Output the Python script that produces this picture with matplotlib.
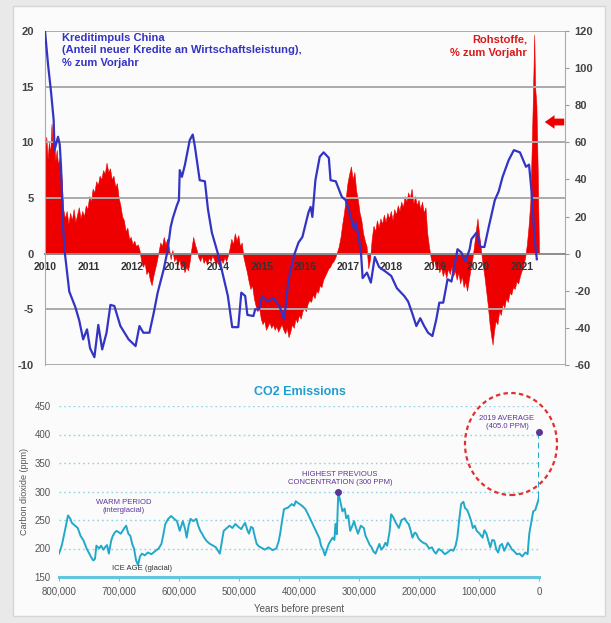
import numpy as np
import matplotlib
matplotlib.use("Agg")
import matplotlib.pyplot as plt
from matplotlib.patches import Ellipse, Rectangle

plt.rcParams['font.family'] = ['Liberation Sans', 'DejaVu Sans']
plt.rcParams['axes.unicode_minus'] = False

# --- Kreditimpuls China (linke Achse) ---
blue_t = [2010.00, 2010.07, 2010.14, 2010.20, 2010.22, 2010.30, 2010.34, 2010.37, 2010.42, 2010.46,
          2010.56, 2010.70, 2010.79, 2010.88, 2010.97, 2011.04, 2011.14, 2011.23, 2011.32, 2011.42,
          2011.51, 2011.60, 2011.74, 2011.93, 2012.09, 2012.18, 2012.27, 2012.41, 2012.51, 2012.60,
          2012.74, 2012.83, 2012.90, 2012.95, 2013.04, 2013.09, 2013.11, 2013.16, 2013.23, 2013.34,
          2013.41, 2013.46, 2013.57, 2013.69, 2013.76, 2013.85, 2013.99, 2014.13, 2014.22, 2014.32,
          2014.46, 2014.53, 2014.62, 2014.67, 2014.81, 2014.85, 2014.94, 2015.01, 2015.13, 2015.27,
          2015.41, 2015.52, 2015.62, 2015.76, 2015.85, 2015.94, 2016.08, 2016.13, 2016.17, 2016.24,
          2016.34, 2016.43, 2016.55, 2016.59, 2016.71, 2016.85, 2016.94, 2017.03, 2017.13, 2017.17,
          2017.22, 2017.29, 2017.33, 2017.43, 2017.52, 2017.61, 2017.71, 2017.89, 2017.99, 2018.12,
          2018.29, 2018.38, 2018.47, 2018.57, 2018.66, 2018.75, 2018.84, 2018.94, 2019.03, 2019.10,
          2019.19, 2019.29, 2019.38, 2019.52, 2019.61, 2019.70, 2019.80, 2019.84, 2019.96, 2020.05,
          2020.14, 2020.24, 2020.38, 2020.47, 2020.56, 2020.70, 2020.82, 2020.96, 2021.10, 2021.17,
          2021.23, 2021.30, 2021.35]
blue_v = [20.0, 17.0, 14.5, 12.0, 9.3, 10.5, 9.8, 7.8, 2.2, 0.0,
          -3.4, -4.8, -6.0, -7.7, -6.8, -8.5, -9.3, -6.4, -8.6, -7.1,
          -4.6, -4.7, -6.5, -7.7, -8.3, -6.5, -7.1, -7.1, -5.3, -3.5,
          -1.4, 0.3, 2.4, 3.2, 4.3, 4.8, 7.5, 6.9, 8.0, 10.2,
          10.7, 9.6, 6.6, 6.5, 4.0, 1.9, 0.0, -2.3, -3.8, -6.6,
          -6.6, -3.5, -3.8, -5.5, -5.6, -5.0, -5.0, -3.8, -4.3, -4.0,
          -4.7, -5.9, -2.3, 0.0, 1.0, 1.5, 3.7, 4.2, 3.3, 6.6,
          8.7, 9.1, 8.6, 6.6, 6.5, 5.1, 4.8, 3.7, 2.2, 2.8,
          1.9, 0.2, -2.2, -1.7, -2.6, -0.3, -1.2, -1.7, -2.0, -3.1,
          -3.8, -4.3, -5.3, -6.5, -5.8, -6.5, -7.1, -7.4, -5.9, -4.4,
          -4.4, -2.3, -2.5, 0.4, 0.1, -0.7, 0.4, 1.3, 1.9, 0.6,
          0.6, 2.4, 4.8, 5.6, 6.9, 8.4, 9.3, 9.1, 7.8, 8.0,
          5.5, 1.3, -0.5]

# --- Rohstoffe, % zum Vorjahr (rechte Achse) ---
red_t = [2010.00, 2010.03, 2010.06, 2010.09, 2010.12, 2010.15, 2010.18, 2010.21, 2010.24, 2010.27,
         2010.30, 2010.34, 2010.38, 2010.42, 2010.46, 2010.50, 2010.54, 2010.58, 2010.62, 2010.66,
         2010.70, 2010.74, 2010.78, 2010.82, 2010.86, 2010.90, 2010.94, 2010.98, 2011.02, 2011.06,
         2011.10, 2011.14, 2011.18, 2011.22, 2011.26, 2011.30, 2011.34, 2011.38, 2011.42, 2011.46,
         2011.50, 2011.54, 2011.58, 2011.62, 2011.66, 2011.70, 2011.74, 2011.78, 2011.82, 2011.86,
         2011.90, 2011.94, 2011.98, 2012.02, 2012.06, 2012.10, 2012.14, 2012.18, 2012.22, 2012.26,
         2012.30, 2012.34, 2012.38, 2012.42, 2012.46, 2012.50, 2012.54, 2012.58, 2012.62, 2012.66,
         2012.70, 2012.74, 2012.78, 2012.82, 2012.86, 2012.90, 2012.94, 2012.98, 2013.02, 2013.06,
         2013.10, 2013.14, 2013.18, 2013.22, 2013.26, 2013.30, 2013.34, 2013.38, 2013.42, 2013.46,
         2013.50, 2013.54, 2013.58, 2013.62, 2013.66, 2013.70, 2013.74, 2013.78, 2013.82, 2013.86,
         2013.90, 2013.94, 2013.98, 2014.02, 2014.06, 2014.10, 2014.14, 2014.18, 2014.22, 2014.26,
         2014.30, 2014.34, 2014.38, 2014.42, 2014.46, 2014.50, 2014.54, 2014.58, 2014.62, 2014.66,
         2014.70, 2014.74, 2014.78, 2014.82, 2014.86, 2014.90, 2014.94, 2014.98, 2015.02, 2015.06,
         2015.10, 2015.14, 2015.18, 2015.22, 2015.26, 2015.30, 2015.34, 2015.38, 2015.42, 2015.46,
         2015.50, 2015.54, 2015.58, 2015.62, 2015.66, 2015.70, 2015.74, 2015.78, 2015.82, 2015.86,
         2015.90, 2015.94, 2015.98, 2016.02, 2016.06, 2016.10, 2016.14, 2016.18, 2016.22, 2016.26,
         2016.30, 2016.34, 2016.38, 2016.42, 2016.46, 2016.50, 2016.54, 2016.58, 2016.62, 2016.66,
         2016.70, 2016.74, 2016.78, 2016.82, 2016.86, 2016.90, 2016.94, 2016.98, 2017.02, 2017.06,
         2017.10, 2017.14, 2017.18, 2017.22, 2017.26, 2017.30, 2017.34, 2017.38, 2017.42, 2017.46,
         2017.50, 2017.54, 2017.58, 2017.62, 2017.66, 2017.70, 2017.74, 2017.78, 2017.82, 2017.86,
         2017.90, 2017.94, 2017.98, 2018.02, 2018.06, 2018.10, 2018.14, 2018.18, 2018.22, 2018.26,
         2018.30, 2018.34, 2018.38, 2018.42, 2018.46, 2018.50, 2018.54, 2018.58, 2018.62, 2018.66,
         2018.70, 2018.74, 2018.78, 2018.82, 2018.86, 2018.90, 2018.94, 2018.98, 2019.02, 2019.06,
         2019.10, 2019.14, 2019.18, 2019.22, 2019.26, 2019.30, 2019.34, 2019.38, 2019.42, 2019.46,
         2019.50, 2019.54, 2019.58, 2019.62, 2019.66, 2019.70, 2019.74, 2019.78, 2019.82, 2019.86,
         2019.90, 2019.94, 2019.98, 2020.02, 2020.06, 2020.10, 2020.14, 2020.18, 2020.22, 2020.26,
         2020.30, 2020.33, 2020.36, 2020.40, 2020.44, 2020.48, 2020.52, 2020.56, 2020.60, 2020.64,
         2020.68, 2020.72, 2020.76, 2020.80, 2020.84, 2020.88, 2020.92, 2020.96, 2021.00, 2021.04,
         2021.08, 2021.12, 2021.16, 2021.20, 2021.23, 2021.26, 2021.29, 2021.31, 2021.34, 2021.37,
         2021.40]
red_v = [55, 63, 51, 60, 54, 70, 57, 62, 50, 56,
         48, 52, 42, 24, 19, 23, 16, 22, 18, 24,
         17, 21, 25, 19, 23, 20, 26, 24, 31, 28,
         35, 33, 39, 37, 42, 40, 45, 43, 49, 44,
         46, 40, 42, 36, 38, 30, 26, 20, 18, 12,
         14, 8, 9, 5, 7, 4, 5, 2, -4, -7,
         -5, -11, -9, -14, -17, -12, -8, -4, 1, 6,
         4, 9, 5, 8, 3, -3, 2, -4, -2, -6,
         -3, -8, -6, -10, -7, -9, -4, 3, 9, 5,
         2, -2, -4, -1, -5, -3, -6, -2, -4, -1,
         -3, -6, -4, -7, -3, -5, -2, -4, -1, 3,
         8, 5, 11, 7, 10, 4, 6, -2, -6, -10,
         -15, -19, -17, -24, -28, -31, -29, -35, -38, -36,
         -41, -39, -37, -40, -38, -41, -39, -42, -40, -38,
         -41, -43, -40, -45, -42, -38, -40, -35, -37, -33,
         -35, -31, -29, -31, -27, -25, -26, -22, -24, -20,
         -21, -17, -18, -14, -12, -10, -8, -7, -5, -4,
         -2, 1, 4, 9, 16, 22, 30, 38, 43, 47,
         40, 44, 34, 29, 22, 18, 11, 7, 4, -8,
         -3, 8, 15, 12, 18, 14, 19, 16, 21, 17,
         22, 19, 23, 18, 24, 21, 26, 23, 28, 25,
         31, 28, 33, 30, 35, 27, 31, 26, 29, 24,
         28, 22, 25, 11, 4, -2, -6, -3, -8, -5,
         -10, -7, -12, -9, -13, -8, -11, -7, -12, -9,
         -14, -10, -16, -12, -18, -15, -20, -14, -8, -3,
         4, 12, 19, 10, 2, -6, -12, -20, -28, -38,
         -45, -49, -42, -36, -38, -31, -33, -27, -29, -24,
         -26, -21, -22, -18, -19, -15, -16, -12, -9, -6,
         -2, 5, 15, 28, 55, 85, 118, 90, 80, 45,
         0]

years = list(range(2010, 2022))

# --- CO2 (ppm), Jahre vor heute ---
co2_kyr = [800, 797, 794.8, 790, 785, 781, 778.6, 773, 768.8, 764,
           759.1, 754, 749.4, 746, 742.9, 740, 737.7, 733, 729.9, 726,
           723.4, 720, 716.9, 713, 710.4, 707, 703.9, 697, 691, 688,
           684.5, 681, 678, 675, 671.5, 668.3, 665, 661.8, 657, 652,
           646, 639, 634, 629.3, 626, 622.8, 618, 613.1, 608, 603.4,
           598.8, 596, 593.7, 590, 587.2, 584, 580.7, 576, 571, 568,
           564.5, 561, 558, 553, 548.2, 543, 538.5, 535, 532, 528,
           525.5, 520, 515.8, 511, 506.1, 501, 496.3, 493, 489.8, 486,
           483.4, 480, 476.9, 473, 470.4, 467, 463.9, 457, 450.9, 444,
           437.9, 434, 431.4, 428, 425, 418, 412, 408, 405.5, 402,
           399, 394, 389.3, 384, 379.5, 375, 369.8, 366, 363.3, 360,
           356.8, 353, 350.4, 347, 343.9, 341, 339.3, 337, 334.5, 331,
           327.6, 324, 321.2, 318, 314.7, 311, 308.2, 305, 301.7, 297,
           292, 289, 285.5, 282, 279, 276, 272.5, 269, 266, 263,
           259.5, 256, 253, 249, 246.5, 243, 240.1, 237, 233.6, 229,
           223.8, 220, 217.3, 214, 210.9, 207, 204.4, 201, 197.9, 193,
           188.2, 183, 178.4, 175, 171.9, 167, 162.2, 157, 152.5, 147,
           142.7, 139, 136.2, 133, 129.8, 126, 123.3, 120, 116.8, 113,
           110.3, 107, 103.8, 99, 94.1, 91, 87.6, 84, 81.1, 78,
           74.6, 71, 68.1, 65, 61.6, 58, 55.1, 52, 48.7, 45,
           42.2, 37, 32.4, 28, 22.7, 19, 16.2, 13, 9.7, 6,
           3.2, 1.5, 0]
co2_ppm = [191, 200, 208, 232, 258, 252, 245, 240, 236, 222,
           214, 200, 191, 184, 179, 182, 205, 200, 205, 198,
           202, 206, 191, 214, 222, 228, 231, 226, 236, 240,
           226, 222, 208, 200, 179, 171, 186, 191, 188, 193,
           190, 196, 200, 208, 225, 243, 252, 257, 252, 248,
           231, 240, 248, 235, 219, 240, 252, 248, 252, 240,
           231, 225, 219, 212, 208, 205, 202, 196, 191, 215,
           231, 236, 240, 236, 243, 238, 234, 240, 245, 232,
           226, 238, 236, 218, 208, 204, 202, 198, 202, 197,
           200, 212, 226, 250, 269, 272, 278, 275, 283, 280,
           278, 274, 269, 258, 248, 238, 226, 218, 205, 198,
           188, 200, 208, 214, 219, 215, 243, 225, 298, 282,
           265, 270, 253, 258, 231, 240, 248, 236, 226, 240,
           236, 222, 214, 206, 202, 195, 191, 200, 208, 198,
           202, 210, 205, 230, 260, 255, 248, 242, 236, 250,
           253, 246, 243, 232, 219, 228, 226, 218, 214, 210,
           208, 200, 202, 195, 191, 199, 196, 190, 193, 198,
           196, 205, 219, 250, 278, 282, 271, 268, 260, 248,
           236, 240, 231, 226, 219, 232, 226, 212, 202, 215,
           214, 198, 193, 205, 208, 196, 202, 210, 205, 198,
           196, 190, 191, 186, 193, 190, 226, 245, 265, 268,
           278, 283, 290]
co2_ticks = [800000, 700000, 600000, 500000, 400000, 300000, 200000, 100000, 0]
co2_ticklabels = ['800,000', '700,000', '600,000', '500,000', '400,000',
                  '300,000', '200,000', '100,000', '0']
co2_now = 405.0
co2_prev_max_kyr = 334.5
co2_prev_max = 300

W, H = 611, 623
BLUE = '#3434c4'
RED = '#ee0000'
CYAN = '#22a9c9'
PURPLE = '#5b3596'
GREY_TXT = '#444444'


def fx(px):
    return px / W


def fy(py):
    return 1 - py / H


fig = plt.figure(figsize=(W / 100, H / 100), dpi=100, facecolor='#e9e9e9')
fig.patches.append(Rectangle((fx(13), fy(616)), fx(605) - fx(13), fy(6) - fy(616),
                             transform=fig.transFigure, facecolor='#fbfbfb',
                             edgecolor='#d6d6d6', lw=1, zorder=-10))

# ---------------- oberes Diagramm ----------------
ax = fig.add_axes([fx(45), fy(365), fx(565) - fx(45), fy(31) - fy(365)])
ax2 = ax.twinx()
ax.set_zorder(2)
ax.patch.set_visible(False)
ax2.set_zorder(1)

ax2.fill_between(red_t, red_v, 0, color=RED, lw=0.4, edgecolor=RED)
ax2.set_ylim(-60, 120)
ax2.set_yticks(range(-60, 121, 20))
ax2.tick_params(axis='y', length=3, color='#999999', labelsize=8, labelcolor=GREY_TXT, pad=4)
for lab in ax2.get_yticklabels():
    lab.set_fontweight('bold')

for v in [20, 15, 10, 5, -5, -10]:
    ax.axhline(v, color='#aaaaaa', lw=1.4, zorder=0)
ax.plot(blue_t, blue_v, color=BLUE, lw=1.6, zorder=3)
ax.set_xlim(2010, 2022)
ax.set_ylim(-10, 20)
ax.set_yticks([20, 15, 10, 5, 0, -5, -10])
ax.set_xticks(years)
ax.spines['bottom'].set_position(('data', 0))
ax.spines['bottom'].set_color('#8c8c8c')
ax.spines['bottom'].set_linewidth(1.4)
ax.spines['bottom'].set_zorder(1)
ax.spines['top'].set_visible(False)
ax2.spines['top'].set_visible(False)
ax2.spines['bottom'].set_visible(False)
ax.spines['left'].set_color('#aaaaaa')
ax2.spines['right'].set_color('#aaaaaa')
ax2.spines['left'].set_visible(False)
ax.spines['right'].set_visible(False)
ax.tick_params(axis='x', length=0, pad=6, labelsize=7.5, labelcolor='#333333')
ax.tick_params(axis='y', length=0, pad=8, labelsize=8, labelcolor=GREY_TXT)
for lab in ax.get_xticklabels() + ax.get_yticklabels():
    lab.set_fontweight('bold')

fig.text(fx(62), fy(33), 'Kreditimpuls China\n(Anteil neuer Kredite an Wirtschaftsleistung),\n% zum Vorjahr',
         color=BLUE, fontsize=8, fontweight='bold', va='top', ha='left', linespacing=1.3)
fig.text(fx(527), fy(35), 'Rohstoffe,\n% zum Vorjahr', color='#d91a1a', fontsize=8,
         fontweight='bold', va='top', ha='right', multialignment='right', linespacing=1.35)
fig.add_artist(matplotlib.patches.FancyArrowPatch(
    (fx(567), fy(122)), (fx(542), fy(122)), transform=fig.transFigure,
    arrowstyle='simple,head_width=0.7,head_length=0.5,tail_width=0.35',
    mutation_scale=14, color=RED, lw=0))

# ---------------- unteres Diagramm ----------------
ax3 = fig.add_axes([fx(59), fy(577), fx(539) - fx(59), fy(406) - fy(577)])
ax3.patch.set_visible(False)
co2_years = [k * 1000 for k in co2_kyr]
for v in [200, 250, 300, 350, 400, 450]:
    ax3.axhline(v, color='#8fd4e6', lw=1.0, ls=(0, (1.2, 2.2)), zorder=0)
ax3.axhline(150, color='#63c6dc', lw=2.2, zorder=1, clip_on=False)
ax3.plot(co2_years, co2_ppm, color=CYAN, lw=1.4, zorder=2)
ax3.plot([0, 0], [co2_ppm[-1], co2_now], color=CYAN, lw=1.4, ls=(0, (3, 2)), zorder=2)
ax3.plot([0], [co2_now], 'o', color=PURPLE, ms=4, zorder=4, clip_on=False)
ax3.plot([co2_prev_max_kyr * 1000], [co2_prev_max], 'o', color=PURPLE, ms=4, zorder=4)
ax3.set_xlim(800000, 0)
ax3.set_ylim(150, 450)
ax3.set_xticks(co2_ticks)
ax3.set_xticklabels(co2_ticklabels)
ax3.set_yticks([150, 200, 250, 300, 350, 400, 450])
for s in ax3.spines.values():
    s.set_visible(False)
ax3.tick_params(axis='x', length=3, color='#63c6dc', pad=4, labelsize=7, labelcolor='#555555')
ax3.tick_params(axis='y', length=0, pad=6, labelsize=7, labelcolor='#555555')
ax3.set_xlabel('Years before present', fontsize=7, color='#555555', labelpad=5)
ax3.set_ylabel('Carbon dioxide (ppm)', fontsize=6.5, color='#555555', labelpad=4)

fig.text(fx(300), fy(392), 'CO2 Emissions', color='#1f9fcf', fontsize=9,
         fontweight='bold', ha='center', va='center')
fig.text(fx(507), fy(423), '2019 AVERAGE\n(405.0 PPM)', color=PURPLE, fontsize=5.5,
         ha='center', va='center', linespacing=1.2)
fig.text(fx(340), fy(478), 'HIGHEST PREVIOUS\nCONCENTRATION (300 PPM)', color=PURPLE,
         fontsize=5.5, ha='center', va='center', linespacing=1.2)
fig.text(fx(124), fy(507), 'WARM PERIOD\n(interglacial)', color=PURPLE, fontsize=5.5,
         ha='center', va='center', linespacing=1.2)
fig.text(fx(142), fy(569), 'ICE AGE (glacial)', color='#333333', fontsize=5.5,
         ha='center', va='center')
fig.add_artist(Ellipse((fx(511), fy(444)), 92 / W, 102 / H, transform=fig.transFigure,
                       fill=False, edgecolor='#e03030', lw=1.6, ls=(0, (2, 1.5))))

fig.savefig('out.png', dpi=100, facecolor=fig.get_facecolor())
